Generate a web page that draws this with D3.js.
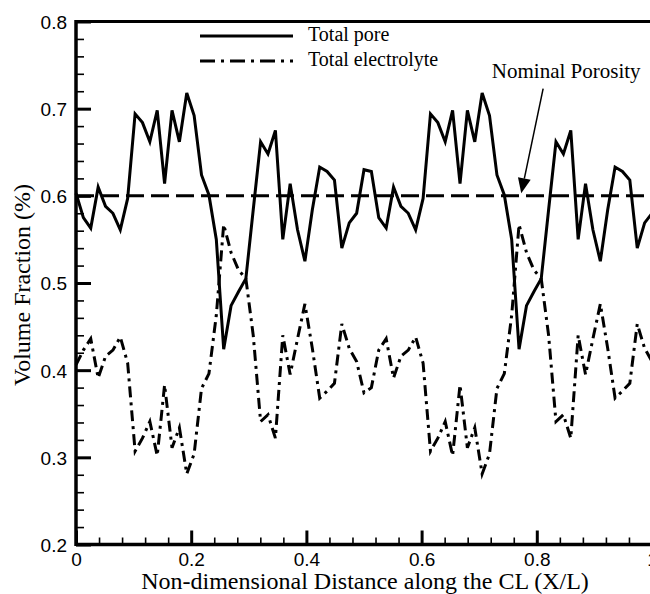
<!DOCTYPE html>
<meta charset="utf-8">
<style>
  body { margin: 0; background: #fff; }
  .tick-label { font-family: "Liberation Sans", Arial, sans-serif; font-size: 19px; fill: #000; }
  .title { font-family: "Liberation Serif", "Times New Roman", serif; font-size: 24px; fill: #000; }
  .legend-text { font-family: "Liberation Serif", "Times New Roman", serif; font-size: 20px; fill: #000; }
</style>
<script src="https://d3js.org/d3.v7.min.js"></script>

<svg id="chart" width="650" height="594"></svg>

<script>

// Data (79 samples along X/L)
var xPos = [0, 0.0128, 0.0256, 0.0385, 0.0513, 0.0641, 0.0769, 0.0897, 0.1026, 0.1154,
  0.1282, 0.1410, 0.1538, 0.1667, 0.1795, 0.1923, 0.2051, 0.2179, 0.2308, 0.2436,
  0.2564, 0.2692, 0.2821, 0.2949, 0.3077, 0.3205, 0.3333, 0.3462, 0.3590, 0.3718,
  0.3846, 0.3974, 0.4103, 0.4231, 0.4359, 0.4487, 0.4615, 0.4744, 0.4872, 0.5,
  0.5128, 0.5256, 0.5385, 0.5513, 0.5641, 0.5769, 0.5897, 0.6026, 0.6154, 0.6282,
  0.6410, 0.6538, 0.6667, 0.6795, 0.6923, 0.7051, 0.7179, 0.7308, 0.7436, 0.7564,
  0.7692, 0.7821, 0.7949, 0.8077, 0.8205, 0.8333, 0.8462, 0.8590, 0.8718, 0.8846,
  0.8974, 0.9103, 0.9231, 0.9359, 0.9487, 0.9615, 0.9744, 0.9872, 1.0];

var totalPore = [0.603, 0.575, 0.563, 0.610, 0.588, 0.580, 0.561, 0.597, 0.694, 0.684,
  0.662, 0.698, 0.614, 0.698, 0.662, 0.718, 0.692, 0.624, 0.601, 0.550,
  0.424, 0.474, 0.490, 0.505, 0.584, 0.662, 0.648, 0.675, 0.550, 0.614,
  0.561, 0.525, 0.584, 0.633, 0.628, 0.618, 0.540, 0.569, 0.580, 0.630,
  0.628, 0.575, 0.563, 0.610, 0.588, 0.580, 0.561, 0.597, 0.694, 0.684,
  0.662, 0.698, 0.614, 0.698, 0.662, 0.718, 0.692, 0.624, 0.601, 0.550,
  0.424, 0.474, 0.490, 0.505, 0.584, 0.662, 0.648, 0.675, 0.550, 0.614,
  0.561, 0.525, 0.584, 0.633, 0.628, 0.618, 0.540, 0.569, 0.580];

var totalElectrolyte = [0.406, 0.423, 0.436, 0.391, 0.416, 0.423, 0.438, 0.408, 0.307, 0.322,
  0.341, 0.302, 0.383, 0.311, 0.334, 0.281, 0.304, 0.379, 0.396, 0.463,
  0.567, 0.535, 0.515, 0.505, 0.440, 0.341, 0.349, 0.322, 0.440, 0.395,
  0.436, 0.476, 0.425, 0.368, 0.376, 0.385, 0.453, 0.425, 0.410, 0.374,
  0.380, 0.423, 0.436, 0.391, 0.416, 0.423, 0.438, 0.408, 0.307, 0.322,
  0.341, 0.302, 0.383, 0.311, 0.334, 0.281, 0.304, 0.379, 0.396, 0.463,
  0.567, 0.535, 0.515, 0.505, 0.440, 0.341, 0.349, 0.322, 0.440, 0.395,
  0.436, 0.476, 0.425, 0.368, 0.376, 0.385, 0.453, 0.425, 0.410];

var nominalPorosity = 0.6;

var xTicks = [0, 0.2, 0.4, 0.6, 0.8, 1];
var xTickLabels = ["0", "0.2", "0.4", "0.6", "0.8", "1"];
var yTicks = [0.2, 0.3, 0.4, 0.5, 0.6, 0.7, 0.8];
var yTickLabels = ["0.2", "0.3", "0.4", "0.5", "0.6", "0.7", "0.8"];

var seriesNames = ["Total pore", "Total electrolyte"];

// annotation (in data units)
var noteText = "Nominal Porosity";
var noteAt = [0.722, 0.735];
var arrowFrom = [0.811, 0.723];
var arrowTo = [0.773, 0.603];

// The svg
var svg = d3.select("#chart");
var pLeft = 76, pRight = 652, pTop = 21.5, pBottom = 544.5;

var x = d3.scaleLinear().domain([0, 1]).range([pLeft, pRight]);
var y = d3.scaleLinear().domain([0.2, 0.8]).range([pBottom, pTop]);

var xMinor = d3.range(0, 1.0001, 0.04).filter(function(d) { return Math.abs(d * 5 - Math.round(d * 5)) > 1e-6; });
var yMinor = d3.range(0.2, 0.8001, 0.02).filter(function(d) { return Math.abs(d * 10 - Math.round(d * 10)) > 1e-6; });

// minor ticks
svg.append("g")
  .attr("transform", "translate(0," + pBottom + ")")
  .call(d3.axisBottom(x).tickValues(xMinor).tickSize(-7).tickFormat(""))
  .call(function(g) { g.select(".domain").remove(); g.selectAll("line").attr("stroke-width", 1.6); });
svg.append("g")
  .attr("transform", "translate(" + pLeft + ",0)")
  .call(d3.axisLeft(y).tickValues(yMinor).tickSize(-8).tickFormat(""))
  .call(function(g) { g.select(".domain").remove(); g.selectAll("line").attr("stroke-width", 1.6); });

// major ticks
var xAxis = svg.append("g")
  .attr("transform", "translate(0," + pBottom + ")")
  .call(d3.axisBottom(x).tickValues(xTicks).tickSize(-14).tickPadding(0)
    .tickFormat(function(d, i) { return xTickLabels[i]; }));
xAxis.select(".domain").remove();
xAxis.selectAll("line").attr("stroke-width", 3);
xAxis.selectAll("text").attr("class", "tick-label").attr("y", 21).attr("dy", null);

var yAxis = svg.append("g")
  .attr("transform", "translate(" + pLeft + ",0)")
  .call(d3.axisLeft(y).tickValues(yTicks).tickSize(-15)
    .tickFormat(function(d, i) { return yTickLabels[i]; }));
yAxis.select(".domain").remove();
yAxis.selectAll("line").attr("stroke-width", 3);
yAxis.selectAll("text").attr("class", "tick-label").attr("x", -9).attr("dy", "0.36em");

// frame
svg.append("line").attr("x1", pLeft).attr("x2", pLeft).attr("y1", pTop - 1.5).attr("y2", pBottom + 1.5)
  .attr("stroke", "#000").attr("stroke-width", 3.5);
svg.append("line").attr("x1", pLeft).attr("x2", pRight).attr("y1", pBottom).attr("y2", pBottom)
  .attr("stroke", "#000").attr("stroke-width", 3.5);
svg.append("line").attr("x1", pLeft).attr("x2", pRight).attr("y1", pTop).attr("y2", pTop)
  .attr("stroke", "#000").attr("stroke-width", 3);

// nominal porosity line
svg.append("line")
  .attr("x1", x(0)).attr("x2", x(1))
  .attr("y1", y(nominalPorosity)).attr("y2", y(nominalPorosity))
  .attr("stroke", "#000").attr("stroke-width", 3)
  .attr("stroke-dasharray", "18,7");

var line = d3.line().x(function(d) { return x(d[0]); }).y(function(d) { return y(d[1]); });

svg.append("path")
  .datum(xPos.map(function(d, i) { return [d, totalElectrolyte[i]]; }))
  .attr("d", line)
  .attr("fill", "none").attr("stroke", "#000").attr("stroke-width", 3)
  .attr("stroke-dasharray", "11,5,3,5");

svg.append("path")
  .datum(xPos.map(function(d, i) { return [d, totalPore[i]]; }))
  .attr("d", line)
  .attr("fill", "none").attr("stroke", "#000").attr("stroke-width", 3)
  .attr("stroke-linejoin", "miter");

// legend
var legend = svg.selectAll("g.legend")
  .data(seriesNames)
  .enter().append("g")
  .attr("class", "legend")
  .attr("transform", function(d, i) { return "translate(200," + (36 + i * 25) + ")"; });

legend.append("line")
  .attr("x1", 0).attr("x2", 93).attr("y1", 0).attr("y2", 0)
  .attr("stroke", "#000").attr("stroke-width", 3)
  .attr("stroke-dasharray", function(d, i) { return i === 0 ? null : "15,6,3,6"; });

legend.append("text")
  .attr("class", "legend-text")
  .attr("x", 108).attr("y", 5)
  .text(function(d) { return d; });

// annotation
svg.append("text")
  .attr("class", "legend-text")
  .style("font-size", "21px")
  .attr("x", x(noteAt[0])).attr("y", y(noteAt[1]))
  .text(noteText);

var ax0 = x(arrowFrom[0]), ay0 = y(arrowFrom[1]), ax1 = x(arrowTo[0]), ay1 = y(arrowTo[1]);
var len = Math.sqrt((ax1 - ax0) * (ax1 - ax0) + (ay1 - ay0) * (ay1 - ay0));
var ux = (ax1 - ax0) / len, uy = (ay1 - ay0) / len;
var headL = 15, headW = 6.5;
svg.append("line")
  .attr("x1", ax0).attr("y1", ay0)
  .attr("x2", ax1 - ux * headL).attr("y2", ay1 - uy * headL)
  .attr("stroke", "#000").attr("stroke-width", 1.5);
svg.append("path")
  .attr("d", "M" + ax1 + "," + ay1 +
    "L" + (ax1 - ux * headL - uy * headW) + "," + (ay1 - uy * headL + ux * headW) +
    "L" + (ax1 - ux * headL + uy * headW) + "," + (ay1 - uy * headL - ux * headW) + "Z")
  .attr("fill", "#000");

// axis titles
svg.append("text")
  .attr("class", "title")
  .attr("text-anchor", "middle")
  .attr("x", 365)
  .attr("y", 589)
  .text("Non-dimensional Distance along the CL (X/L)");

svg.append("text")
  .attr("class", "title")
  .attr("text-anchor", "middle")
  .attr("transform", "translate(30,285) rotate(-90)")
  .text("Volume Fraction (%)");

</script>
